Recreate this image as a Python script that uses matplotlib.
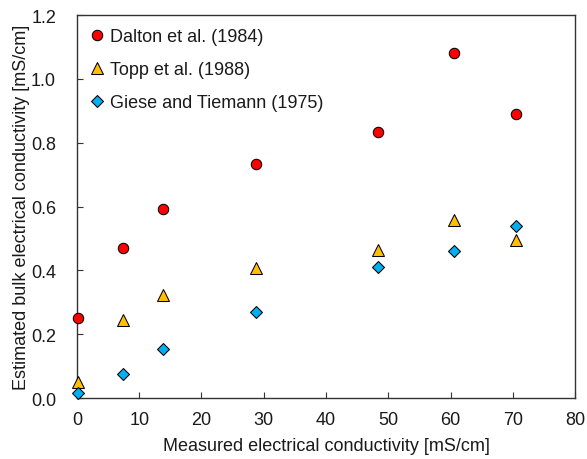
import matplotlib
matplotlib.use("Agg")
import matplotlib.pyplot as plt

plt.rcParams['font.family'] = ['Liberation Sans', 'DejaVu Sans']

measured = [0.1, 7.4, 13.75, 28.8, 48.4, 60.5, 70.5]
dalton = [0.25, 0.47, 0.592, 0.734, 0.834, 1.08, 0.89]
topp = [0.05, 0.243, 0.323, 0.406, 0.465, 0.558, 0.495]
giese = [0.015, 0.074, 0.153, 0.268, 0.410, 0.460, 0.540]

labels = ["Dalton et al. (1984)", "Topp et al. (1988)", "Giese and Tiemann (1975)"]
xticks = list(range(0, 81, 10))
yticks = [0.0, 0.2, 0.4, 0.6, 0.8, 1.0, 1.2]

FS = 13

fig = plt.figure(figsize=(5.87, 4.60), dpi=100)
ax = fig.add_axes([0.131, 0.1326, 0.849, 0.8324])

ax.plot(measured, dalton, linestyle='none', marker='o', markersize=7.5,
        markerfacecolor='#FF0000', markeredgecolor='black', markeredgewidth=0.75,
        label=labels[0], clip_on=False, zorder=3)
ax.plot(measured, topp, linestyle='none', marker='^', markersize=8.2,
        markerfacecolor='#FFC000', markeredgecolor='black', markeredgewidth=0.75,
        label=labels[1], clip_on=False, zorder=3)
ax.plot(measured, giese, linestyle='none', marker='D', markersize=5.8,
        markerfacecolor='#00B0F0', markeredgecolor='black', markeredgewidth=0.75,
        label=labels[2], clip_on=False, zorder=3)

ax.set_xlim(0, 80)
ax.set_ylim(0, 1.2)
ax.set_xticks(xticks)
ax.set_yticks(yticks)
ax.set_yticklabels([f"{v:.1f}" for v in yticks])
ax.tick_params(direction='in', length=4, width=0.8, labelsize=FS, colors='#333333',
               labelcolor='#1a1a1a', top=False, right=False)
ax.tick_params(axis='y', pad=15)
ax.tick_params(axis='x', pad=9)
for s in ax.spines.values():
    s.set_linewidth(1.0)
    s.set_color('#333333')

ax.set_xlabel("Measured electrical conductivity [mS/cm]", fontsize=FS, labelpad=7, color='#1a1a1a')
ax.set_ylabel("Estimated bulk electrical conductivity [mS/cm]", fontsize=FS, labelpad=1, color='#1a1a1a')

ax.legend(loc='upper left', frameon=False, fontsize=FS, handletextpad=0.33,
          labelspacing=0.88, handlelength=0.76, borderaxespad=0.32, borderpad=0.4,
          labelcolor='#1a1a1a')

fig.savefig("out.png", dpi=100)
